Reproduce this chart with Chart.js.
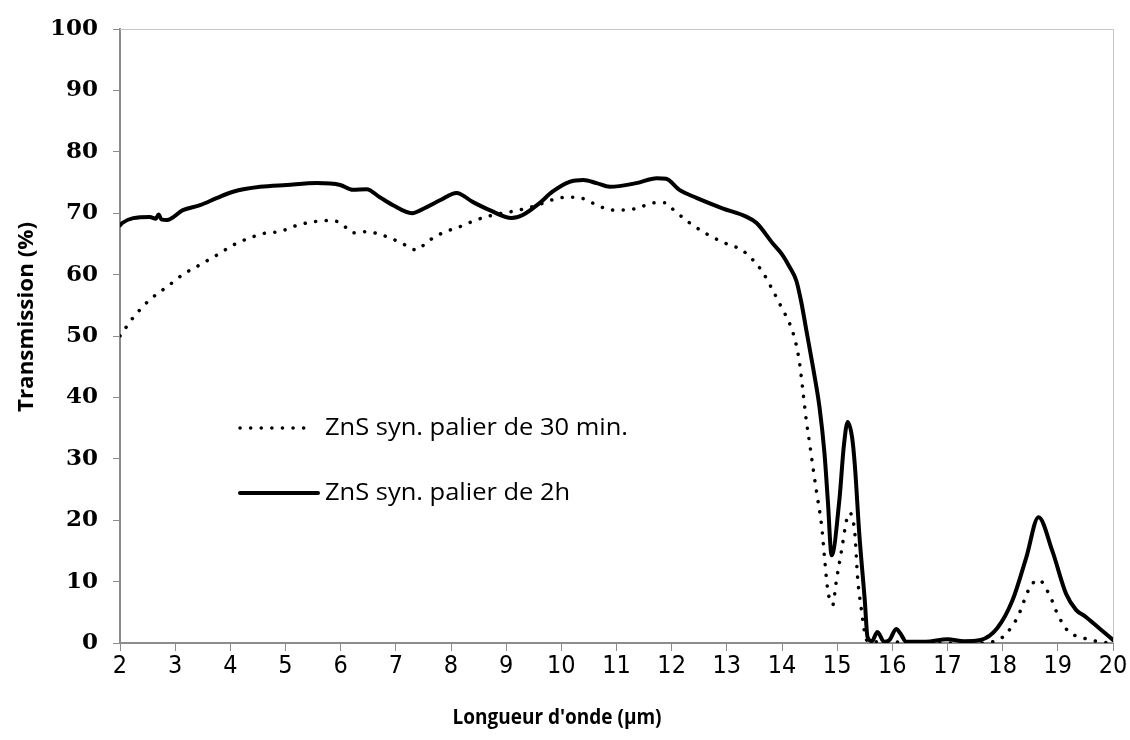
<!DOCTYPE html>
<html>
<head>
<meta charset="utf-8">
<script src="https://cdn.jsdelivr.net/npm/chart.js@4.4.1/dist/chart.umd.min.js"></script>
<style>
  html, body { margin: 0; padding: 0; background: #fff; }
  #wrap { width: 1130px; height: 740px; }
</style>
</head>
<body>
<div id="wrap"><canvas id="chart" width="1130" height="740"></canvas></div>
<script>
/* ── Data ──────────────────────────────────────────────────────────────── */

var xTicks = [2, 3, 4, 5, 6, 7, 8, 9, 10, 11, 12, 13, 14, 15, 16, 17, 18, 19, 20];
var yTicks = [0, 10, 20, 30, 40, 50, 60, 70, 80, 90, 100];

var xTitle = "Longueur d'onde (µm)";
var yTitle = 'Transmission (%)';

var label30 = 'ZnS syn. palier de 30 min.';
var x30 = [2.0, 2.24, 2.54, 2.85, 3.14, 3.45, 3.76, 4.05, 4.36, 4.66, 4.9, 5.13, 5.5, 5.8, 6.0,
           6.15, 6.22, 6.47, 6.76, 7.07, 7.38, 7.56, 7.85, 8.16, 8.46, 8.76, 9.06, 9.37, 9.66,
           9.97, 10.2, 10.46, 10.64, 10.97, 11.33, 11.7, 11.87, 12.0, 12.3, 12.6, 12.92, 13.27,
           13.45, 13.65, 13.83, 14.0, 14.14, 14.26, 14.32, 14.38, 14.44, 14.5, 14.56, 14.64,
           14.72, 14.77, 14.83, 14.92, 14.98, 15.08, 15.17, 15.22, 15.32, 15.37, 15.44, 15.5,
           15.56, 16.0, 16.5, 17.0, 17.5, 17.9, 18.07, 18.27, 18.49, 18.65, 18.85, 19.0, 19.2,
           19.4, 19.75, 20.0];
var y30 = [50, 53, 55.9, 58, 60, 61.6, 63.2, 64.8, 66, 66.8, 67, 67.8, 68.6, 68.8, 68.4,
           67.2, 66.8, 67, 66.4, 65.3, 64, 65.3, 66.8, 67.8, 68.9, 69.7, 70.2, 70.8, 71.6,
           72.5, 72.6, 72.2, 71.3, 70.5, 70.7, 71.7, 71.7, 70.8, 68.6, 66.8, 65.3, 64,
           62.6, 60.4, 57.5, 54.5, 52, 48.5, 45.5, 41, 36.3, 32.6, 28.7, 23.8,
           19, 14, 8.6, 6.2, 9.8, 15.1, 20, 21.2, 17.9, 10.7, 5.4, 1.6,
           0.2, 0.2, 0, 0, 0, 0.4, 1.6, 4.2, 9, 10.3, 7.8, 4.6, 1.8,
           1, 0.2, 0];

var label2h = 'ZnS syn. palier de 2h';
var x2h = [2.0, 2.04, 2.24, 2.54, 2.65, 2.7, 2.75, 2.85, 3.14, 3.45, 3.76, 4.05, 4.54, 5.02,
           5.57, 5.99, 6.22, 6.47, 6.71, 6.95, 7.29, 7.56, 7.8, 8.1, 8.4, 8.7, 9.1, 9.3, 9.6,
           9.84, 10.15, 10.4, 10.64, 10.88, 11.36, 11.73, 11.9, 12.14, 12.45, 12.92, 13.36,
           13.54, 13.83, 14.0, 14.14, 14.26, 14.35, 14.44, 14.56, 14.68, 14.77, 14.83, 14.9,
           15.04, 15.12, 15.19, 15.27, 15.32, 15.4, 15.5, 15.55, 15.63, 15.73, 15.85, 15.95,
           16.07, 16.15, 16.25, 16.6, 17.0, 17.3, 17.6, 17.9, 18.18, 18.43, 18.65, 18.9,
           19.15, 19.33, 19.5, 19.75, 20.0];
var y2h = [68, 68.4, 69.2, 69.4, 69.1, 69.8, 69, 68.9, 70.5, 71.3, 72.5, 73.5, 74.3, 74.6,
           74.9, 74.6, 73.8, 73.9, 72.6, 71.3, 70, 71, 72.1, 73.3, 71.8, 70.5, 69.2, 69.7, 71.6,
           73.5, 75.1, 75.4, 74.9, 74.3, 74.9, 75.7, 75.6, 73.8, 72.5, 70.8, 69.4,
           68.4, 65.1, 63.3, 61.2, 59, 55.5, 51, 45, 38.4, 30.9, 23.3, 14.3,
           23.3, 32, 36, 33.5, 29, 17.9, 7, 1, 0.3, 1.8, 0.2, 0.5,
           2.3, 1.5, 0.2, 0.2, 0.6, 0.3, 0.5, 2.4, 7, 14, 20.5, 15,
           8, 5.4, 4.3, 2.4, 0.5];

/* ── Helpers ───────────────────────────────────────────────────────────── */

function _points(xs, ys) {
  return xs.map(function (x, i) { return { x: x, y: ys[i] }; });
}

// draw text squeezed/stretched horizontally to a target width
function _fitText(ctx, text, x, y, width, align) {
  var w = ctx.measureText(text).width;
  var s = width / w;
  ctx.save();
  ctx.translate(x, y);
  ctx.scale(s, 1);
  ctx.textAlign = align;
  ctx.fillText(text, 0, 0);
  ctx.restore();
}

var AXIS_GREY   = '#8c8c8c';
var BORDER_GREY = '#c6c6c6';
var SANS        = '"Open Sans", "Liberation Sans", sans-serif';

// light frame on top and right of the plot area
var framePlugin = {
  id: 'frame',
  beforeDatasetsDraw: function (chart) {
    var a = chart.chartArea, ctx = chart.ctx;
    ctx.save();
    ctx.strokeStyle = BORDER_GREY;
    ctx.lineWidth = 1;
    ctx.beginPath();
    ctx.moveTo(a.left, a.top + 0.5);
    ctx.lineTo(a.right + 0.5, a.top + 0.5);
    ctx.lineTo(a.right + 0.5, a.bottom);
    ctx.stroke();
    ctx.restore();
  }
};

// axis titles, placed where the reference has them
var titlesPlugin = {
  id: 'titles',
  afterDraw: function (chart) {
    var ctx = chart.ctx;
    ctx.save();
    ctx.fillStyle = '#000';
    ctx.textBaseline = 'middle';
    ctx.font = 'bold 22px ' + SANS;
    _fitText(ctx, xTitle, 557, 718, 209, 'center');
    ctx.translate(27, 317);
    ctx.rotate(-Math.PI / 2);
    ctx.font = 'bold 22px ' + SANS;
    _fitText(ctx, yTitle, 0, 0, 190, 'center');
    ctx.restore();
  }
};

// legend inside the plot, drawn from the datasets' own styles
var insideLegend = {
  id: 'insideLegend',
  afterDraw: function (chart) {
    var ctx = chart.ctx;
    var rows = [
      { y: 428, x0: 240, x1: 310 },
      { y: 493, x0: 240, x1: 318 }
    ];
    ctx.save();
    ctx.font = '23px ' + SANS;
    var scale = 303 / ctx.measureText(label30).width;
    chart.data.datasets.forEach(function (ds, i) {
      var r = rows[i];
      ctx.strokeStyle = ds.borderColor;
      ctx.lineWidth = ds.borderWidth;
      ctx.lineCap = ds.borderCapStyle || 'butt';
      ctx.setLineDash(ds.borderDash || []);
      ctx.beginPath();
      ctx.moveTo(r.x0, r.y);
      ctx.lineTo(r.x1, r.y);
      ctx.stroke();
      ctx.setLineDash([]);
      ctx.fillStyle = '#000';
      ctx.textBaseline = 'middle';
      _fitText(ctx, ds.label, 325, r.y, ctx.measureText(ds.label).width * scale, 'left');
    });
    ctx.restore();
  }
};

/* ── Chart ─────────────────────────────────────────────────────────────── */

new Chart(document.getElementById('chart'), {
  type: 'line',
  data: {
    datasets: [
      {
        label: label30,
        data: _points(x30, y30),
        borderColor: '#000',
        borderWidth: 3.5,
        borderDash: [0.1, 10.5],
        borderCapStyle: 'round',
        pointRadius: 0,
        cubicInterpolationMode: 'monotone',
        fill: false
      },
      {
        label: label2h,
        data: _points(x2h, y2h),
        borderColor: '#000',
        borderWidth: 4,
        borderCapStyle: 'round',
        borderJoinStyle: 'round',
        pointRadius: 0,
        cubicInterpolationMode: 'monotone',
        fill: false
      }
    ]
  },
  options: {
    responsive: false,
    animation: false,
    events: [],
    layout: { padding: { left: 0, top: 29, right: 17, bottom: 0 } },
    plugins: {
      legend: { display: false },
      tooltip: { enabled: false }
    },
    scales: {
      x: {
        type: 'linear',
        min: 2,
        max: 20,
        afterBuildTicks: function (axis) {
          axis.ticks = xTicks.map(function (v) { return { value: v }; });
        },
        afterFit: function (axis) { axis.height = 97; },
        border: { display: true, color: AXIS_GREY, width: 2 },
        grid: { display: true, drawOnChartArea: false, drawTicks: true, tickLength: 8, color: AXIS_GREY, lineWidth: 1 },
        ticks: {
          color: '#000',
          font: { family: '"DejaVu Sans Condensed", "Liberation Sans", sans-serif', size: 25 },
          padding: 0, maxRotation: 0, autoSkip: false
        }
      },
      y: {
        type: 'linear',
        min: 0,
        max: 100,
        afterBuildTicks: function (axis) {
          axis.ticks = yTicks.map(function (v) { return { value: v }; });
        },
        afterFit: function (axis) { axis.width = 120; },
        border: { display: true, color: AXIS_GREY, width: 2 },
        grid: { display: true, drawOnChartArea: false, drawTicks: true, tickLength: 7, color: AXIS_GREY, lineWidth: 1 },
        ticks: { color: '#000', font: { family: '"DejaVu Serif", serif', size: 23, weight: 'bold' }, padding: 15 }
      }
    }
  },
  plugins: [framePlugin, titlesPlugin, insideLegend]
});
</script>
</body>
</html>
